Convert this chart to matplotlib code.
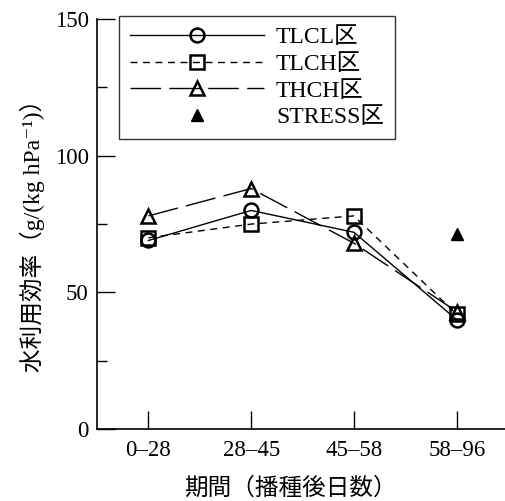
import numpy as np
import matplotlib
matplotlib.use("Agg")
import matplotlib.pyplot as plt
from matplotlib.ticker import MultipleLocator

plt.rcParams['font.family'] = ['Liberation Serif', 'DejaVu Serif', 'Noto Sans CJK JP']

# data
periods = ['0\u201328', '28\u201345', '45\u201358', '58\u201396']
tlcl = [69, 80, 72, 40]
tlch = [70, 75, 78, 42]
thch = [78, 88, 68, 43]
stress_period = ['58\u201396']
stress = [71.5]

x = np.arange(1, len(periods) + 1)
x_stress = [periods.index(p) + 1 for p in stress_period]

fig = plt.figure(figsize=(5.05, 5.01), dpi=100)
ax = fig.add_axes([0.192, 0.1437, 0.808, 0.818])

mk = dict(color='black', markerfacecolor='none', markeredgecolor='black',
          markeredgewidth=1.8, markersize=10, linewidth=1.0)
ax.plot(x, tlcl, marker='o', linestyle='-', label='TLCL区', **mk)
ax.plot(x, tlch, marker='s', linestyle=(0, (5, 4)), label='TLCH区', **mk)
ax.plot(x, thch, marker='^', linestyle=(0, (22, 6)), label='THCH区', **mk)
ax.plot(x_stress, stress, marker='^', linestyle='none', color='black',
        markersize=9, label='STRESS区')

ax.set_xlim(0.5, 4.47)
ax.set_ylim(0, 150)
ax.set_xticks(x)
ax.set_xticklabels(periods)
ax.yaxis.set_major_locator(MultipleLocator(50))
ax.yaxis.set_minor_locator(MultipleLocator(25))
ax.tick_params(axis='both', which='major', direction='in', labelsize=16.5,
               length=13, width=1.0, pad=6)
ax.tick_params(axis='y', which='minor', direction='in', length=7, width=1.0)
ax.tick_params(axis='x', which='major', pad=8)

for s in ['top', 'right']:
    ax.spines[s].set_visible(False)
for s in ['left', 'bottom']:
    ax.spines[s].set_linewidth(1.2)

ax.set_ylabel('水利用効率（g/(kg hPa\u207b\u00b9)）', fontsize=17,
              va='center')
ax.yaxis.set_label_coords(-0.157, 0.485)
ax.set_xlabel('期間（播種後日数）', fontsize=17, va='center',
              family=['Noto Sans CJK JP'])
ax.xaxis.set_label_coords(0.473, -0.144)

leg = ax.legend(loc='upper left', bbox_to_anchor=(0.054, 1.008), fontsize=17,
                handlelength=5.7, frameon=True, fancybox=False,
                edgecolor='black', borderpad=0.45, labelspacing=0.22,
                handletextpad=0.5, borderaxespad=0.0)
leg.get_frame().set_linewidth(1.0)

fig.savefig('out.png', dpi=100)
